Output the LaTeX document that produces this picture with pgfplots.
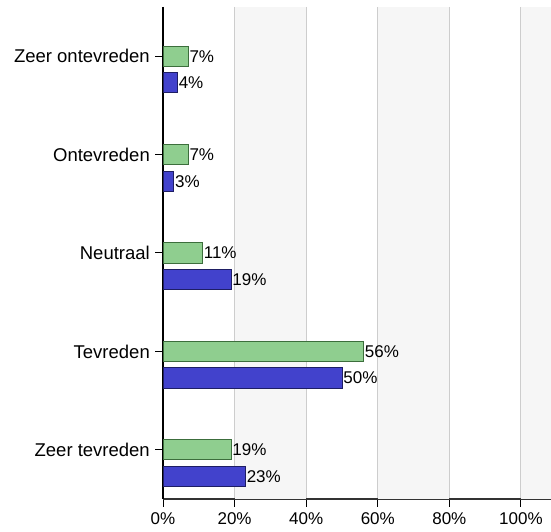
\documentclass[border=0pt]{standalone}
\usepackage{fontspec}
\setmainfont{Liberation Sans}
\usepackage{pgfplots}
\pgfplotsset{compat=1.18}

\definecolor{barGreen}{RGB}{143,206,143}
\definecolor{barGreenDark}{RGB}{60,110,60}
\definecolor{barBlue}{RGB}{66,66,204}
\definecolor{barBlueDark}{RGB}{30,30,100}
\definecolor{bandGrey}{RGB}{246,246,246}
\definecolor{gridGrey}{RGB}{205,205,205}

\begin{document}
\begin{tikzpicture}[font=\fontsize{17}{20}\selectfont]
\begin{axis}[
    at={(0,0)}, anchor=south west,
    scale only axis,
    width=388pt, height=492pt,
    set layers,
    xbar,
    bar width=0.205,
    xmin=0, xmax=108.4,
    ymin=-0.5, ymax=4.5,
    y dir=reverse,
    axis x line*=bottom,
    axis y line*=left,
    x axis line style={line width=1.5pt, black!80},
    y axis line style={line width=1.8pt, black},
    xtick={0,20,40,60,80,100},
    xticklabel={\pgfmathprintnumber{\tick}\%},
    ytick={0,1,2,3,4},
    yticklabels={Zeer ontevreden, Ontevreden, Neutraal, Tevreden, Zeer tevreden},
    tick align=outside,
    major tick length=8pt,
    tick style={black, line width=1pt},
    yticklabel style={inner sep=1pt, xshift=-4pt, font=\fontsize{18.5}{20}\selectfont},
    xticklabel style={yshift=-2pt},
    xmajorgrids=true,
    grid style={gridGrey, line width=1.5pt},
    /pgf/number format/assume math mode=true,
    point meta=x,
    nodes near coords={\pgfmathprintnumber{\pgfplotspointmeta}\%},
    nodes near coords style={anchor=west, inner sep=1pt, black},
]
% alternating background bands
\fill[on layer=axis background, bandGrey] (axis cs:20,-0.5) rectangle (axis cs:40,4.5);
\fill[on layer=axis background, bandGrey] (axis cs:60,-0.5) rectangle (axis cs:80,4.5);
\fill[on layer=axis background, bandGrey] (axis cs:100,-0.5) rectangle (axis cs:108.4,4.5);

\addplot[bar shift=0pt, fill=barGreen, draw=barGreenDark, line width=0.9pt]
    coordinates {(7,0) (7,1) (11,2) (56,3) (19,4)};
\addplot[bar shift=0pt, fill=barBlue, draw=barBlueDark, line width=0.9pt]
    coordinates {(4,0.27) (3,1.27) (19,2.27) (50,3.27) (23,4.27)};
\end{axis}
\pgfresetboundingbox
\path[use as bounding box] (-163pt,-33pt) rectangle (388pt,499pt);
\end{tikzpicture}
\end{document}
